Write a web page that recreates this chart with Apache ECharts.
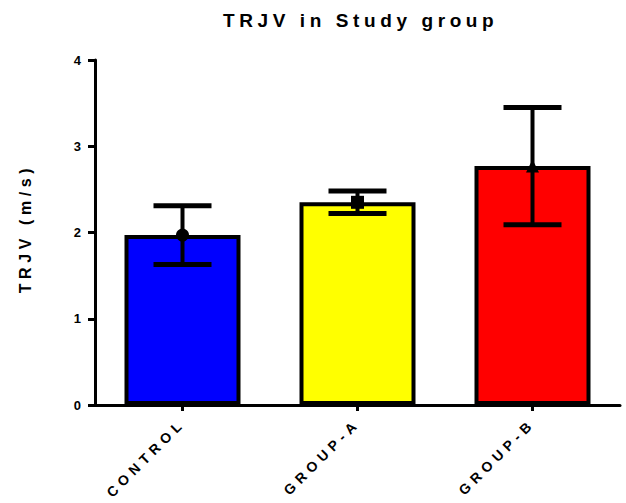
<!DOCTYPE html>
<html>
<head>
<meta charset="utf-8">
<script src="https://cdn.jsdelivr.net/npm/echarts@6/dist/echarts.min.js"></script>
<style>
  html, body { margin: 0; padding: 0; background: #fff; }
  #chart { width: 626px; height: 503px; }
  /* wide letter spacing, per text size */
  #chart text[style*="19px"] { letter-spacing: 4.6px; }
  #chart text[style*="16px"] { letter-spacing: 4.6px; }
  #chart text[style*="14px"] { letter-spacing: 5px; }
</style>
</head>
<body>
<div id="chart"></div>
<script>
// Groups and their TRJV values (m/s)
var categories = ['CONTROL', 'GROUP-A', 'GROUP-B'];
var meanValues = [1.97, 2.35, 2.77];
var sdValues = [0.34, 0.13, 0.68];
var barColors = ['#0000ff', '#ffff00', '#ff0000'];
var markerShapes = ['circle', 'rect', 'triangle'];
var yTicks = [0, 1, 2, 3, 4];

var FONT = '"Liberation Sans", Arial, Helvetica, sans-serif';

var chart = echarts.init(document.getElementById('chart'), null, { renderer: 'svg' });

var barData = meanValues.map(function (v, i) {
  return { value: v, itemStyle: { color: barColors[i] } };
});
var errData = meanValues.map(function (v, i) {
  return [i, v - sdValues[i], v + sdValues[i]];
});
var markData = meanValues.map(function (v, i) {
  return { value: [i, v], symbol: markerShapes[i] };
});

chart.setOption({
  animation: false,
  backgroundColor: '#fff',
  title: {
    text: 'TRJV in Study group',
    left: 218,
    top: 6,
    textStyle: { fontFamily: FONT, fontSize: 19, fontWeight: 'bold', color: '#000' }
  },
  grid: { left: 95, right: 6, top: 60, bottom: 98, containLabel: false },
  xAxis: {
    type: 'category',
    data: categories,
    axisLine: { lineStyle: { color: '#000', width: 3 } },
    axisTick: { show: true, alignWithLabel: true, length: 6, lineStyle: { color: '#000', width: 3 } },
    axisLabel: {
      rotate: 45, margin: 16, interval: 0,
      fontFamily: FONT, fontSize: 14, fontWeight: 'bold', color: '#000'
    },
    splitLine: { show: false }
  },
  yAxis: {
    type: 'value',
    min: yTicks[0],
    max: yTicks[yTicks.length - 1],
    interval: 1,
    name: 'TRJV (m/s)',
    nameLocation: 'middle',
    nameRotate: 90,
    nameGap: 62,
    nameTextStyle: { fontFamily: FONT, fontSize: 16, fontWeight: 'bold', color: '#000', padding: [0, 0, 0, 8] },
    axisLine: { show: true, lineStyle: { color: '#000', width: 3 } },
    axisTick: { show: true, length: 7, lineStyle: { color: '#000', width: 3 } },
    axisLabel: { margin: 14, fontFamily: FONT, fontSize: 13, fontWeight: 'bold', color: '#000' },
    splitLine: { show: false }
  },
  series: [
    {
      type: 'bar',
      data: barData,
      barWidth: 116,
      itemStyle: { borderColor: '#000', borderWidth: 4 },
      z: 2
    },
    {
      // mean ± SD whiskers
      type: 'custom',
      data: errData,
      z: 3,
      renderItem: function (params, api) {
        var x = api.value(0);
        var lo = api.coord([x, api.value(1)]);
        var hi = api.coord([x, api.value(2)]);
        var half = 29;
        var st = { stroke: '#000', lineWidth: 4 };
        var cap = { stroke: '#000', lineWidth: 5 };
        return {
          type: 'group',
          children: [
            { type: 'line', shape: { x1: lo[0], y1: lo[1], x2: hi[0], y2: hi[1] }, style: st },
            { type: 'line', shape: { x1: hi[0] - half, y1: hi[1], x2: hi[0] + half, y2: hi[1] }, style: cap },
            { type: 'line', shape: { x1: lo[0] - half, y1: lo[1], x2: lo[0] + half, y2: lo[1] }, style: cap }
          ]
        };
      }
    },
    {
      type: 'scatter',
      data: markData,
      symbolSize: 13,
      itemStyle: { color: '#000', opacity: 1 },
      z: 4
    }
  ]
});
</script>
</body>
</html>
